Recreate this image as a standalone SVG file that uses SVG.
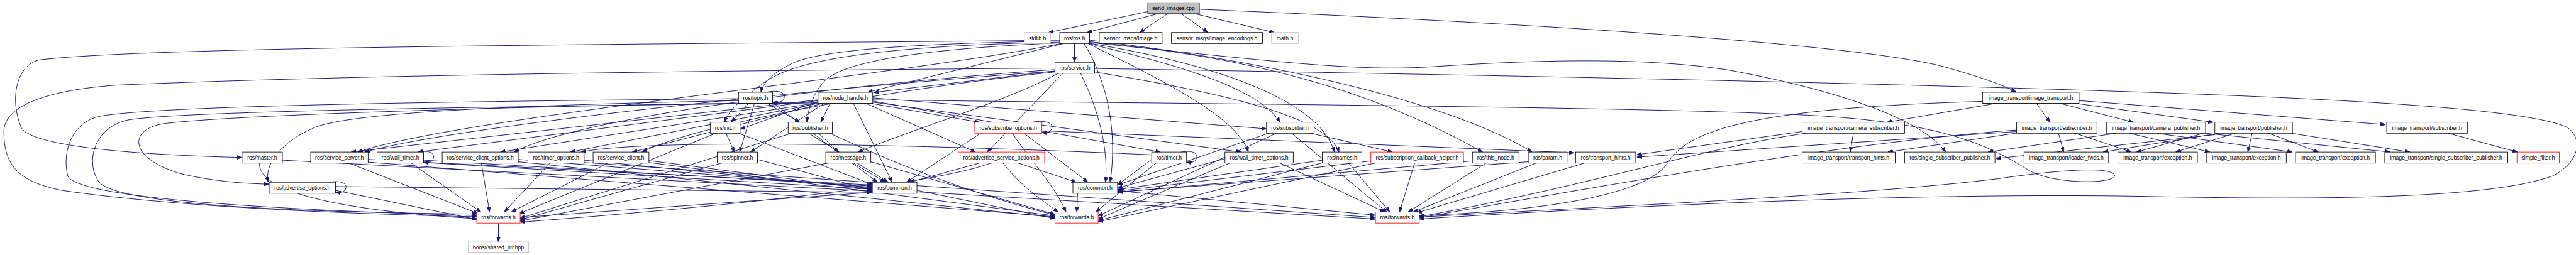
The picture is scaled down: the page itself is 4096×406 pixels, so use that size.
<svg xmlns="http://www.w3.org/2000/svg" width="4096" height="406" viewBox="0 0 4096 406">
<style>
.node rect{fill:#fff;stroke:#000;stroke-width:1.4}
.node.gray rect{stroke:#bfbfbf}
.node.red rect{stroke:#ff0000}
.node.root rect{fill:#bfbfbf}
.node text{font-family:"Liberation Sans",Arial,sans-serif;font-size:14px;text-anchor:middle;fill:#000}
.edges path{fill:none;stroke:#191970;stroke-width:1.6;marker-end:url(#arr)}
</style>
<defs>
<marker id="arr" viewBox="0 0 13 10" refX="13" refY="5" markerWidth="13" markerHeight="10" markerUnits="userSpaceOnUse" orient="auto">
<path d="M0,0 L13,5 L0,10 z" fill="#191970" stroke="#191970" stroke-width="1"/>
</marker>
</defs>
<rect width="4096" height="406" fill="#fff"/>
<g transform="scale(0.616775,0.616085)">
<g class="edges">
<path d="M2960,30 L2703,84"/>
<path d="M2985,35.5 L2802,84"/>
<path d="M3010,35.5 L2938,84"/>
<path d="M3045,35.5 L3114,84"/>
<path d="M3080,35.5 L3285,84"/>
<path d="M3092,24 C4300,75 4850,130 5010,172 C5110,200 5170,222 5198,238.5"/>
<path d="M2770,112.5 L2770,161"/>
<path d="M2742,112.5 L2236,238.5"/>
<path d="M2732,106 C2400,112 2120,125 2040,165 C1990,190 1966,215 1962,238.5"/>
<path d="M2732,109 C2300,118 2060,150 1975,210 C1905,260 1875,290 1868,316"/>
<path d="M2732,111 C2400,125 2190,155 2130,205 C2095,240 2083,285 2080,316"/>
<path d="M2732,104 C1800,114 400,118 100,155 C40,170 25,260 55,330 C85,385 420,402 624,407"/>
<path d="M2736,112.5 C2300,200 1200,300 922,393"/>
<path d="M2805,112.5 C3000,160 3240,220 3300,316"/>
<path d="M2809,110 C3300,160 3500,186 3700,172 C4000,152 4250,150 4450,180 C4700,225 4950,300 5016,393"/>
<path d="M2809,112 C3100,160 3400,250 3440,393"/>
<path d="M2809,108 C3250,150 3550,240 3822,393"/>
<path d="M2809,104 C3300,160 3750,270 3950,393"/>
<path d="M2795,112.5 C2860,220 2880,350 2862,471"/>
<path d="M2805,112.5 C2980,200 3190,300 3218,393"/>
<path d="M2722,183 L2252,239"/>
<path d="M2720,176 C2000,182 1000,190 300,220 C100,235 10,280 10,340 C10,430 50,470 160,492 C450,535 900,553 1229,560"/>
<path d="M2728,189.5 C2600,260 2350,335 2212,393"/>
<path d="M2786,189.5 C2830,280 2858,380 2850,471"/>
<path d="M2822,186 C3150,240 3420,300 3452,393"/>
<path d="M2720,186 C2300,230 1800,320 1655,393"/>
<path d="M2720,180 C2200,215 1500,300 1325,393"/>
<path d="M2740,189.5 L2545,393"/>
<path d="M2720,184 C2200,220 1200,320 940,393"/>
<path d="M2822,177 C3600,190 4400,205 5100,225 C5800,245 6500,270 6620,330 C6660,360 6650,420 6580,455 C6400,520 5900,515 5500,507 C5000,499 4300,525 3659,566"/>
<path d="M2109,262 L1908,334"/>
<path d="M2140,267 L2116,316"/>
<path d="M2125,267 L1935,393"/>
<path d="M2109,258 L905,393"/>
<path d="M2109,260 L1077,393"/>
<path d="M2112,265 L1290,393"/>
<path d="M2116,266 L1470,393"/>
<path d="M2122,267 L1630,393"/>
<path d="M2109,264 C1500,270 600,295 420,320 C330,335 330,410 470,450 C560,470 630,474 694,476"/>
<path d="M2232,267 L2515,393"/>
<path d="M2245,267 L2525,316"/>
<path d="M2250,253 L3265,333"/>
<path d="M2250,261 L2992,393"/>
<path d="M2250,264 L3200,393"/>
<path d="M2200,267 L2300,471"/>
<path d="M2109,266 C1400,274 480,285 330,310 C240,330 220,420 255,470 C300,525 700,548 1229,553"/>
<path d="M2250,258 C3000,268 4300,275 4700,300 C5000,320 5120,370 5230,440 C5300,480 5470,475 5450,450 C5430,430 5300,440 5150,462 C4800,505 4200,530 3659,561"/>
<path d="M1975,238.5 C2012,230 2024,242 2022,252 C2020,263 2008,266 1992,264"/>
<path d="M1930,267 L1885,316"/>
<path d="M1978,267 L2062,316"/>
<path d="M1945,267 L1907,393"/>
<path d="M1992,265 L2262,471"/>
<path d="M1904,255 C1200,262 420,272 260,300 C180,315 160,400 175,455 C195,505 600,540 1229,557"/>
<path d="M1904,260 C1300,272 900,292 810,330 C720,368 680,430 692,471"/>
<path d="M1872,344.5 L1893,393"/>
<path d="M1905,344.5 L2252,478"/>
<path d="M1845,344.5 L1338,552"/>
<path d="M2110,344.5 L2162,393"/>
<path d="M2085,344.5 L2290,471"/>
<path d="M2040,344.5 L1341,564"/>
<path d="M2140,344.5 C2300,420 2500,500 2720,556"/>
<path d="M2660,316 C2700,309 2714,320 2712,330 C2710,341 2700,344 2686,342"/>
<path d="M2528,344.5 L2337,471"/>
<path d="M2640,344.5 L2805,471"/>
<path d="M2610,344.5 C2660,420 2720,480 2748,548"/>
<path d="M2686,338 L4058,395"/>
<path d="M3380,344.5 L3590,393"/>
<path d="M3270,344.5 L2881,478"/>
<path d="M3330,344.5 L3575,548"/>
<path d="M3290,344.5 L2831,558"/>
<path d="M949,412 L2249,478"/>
<path d="M900,421.5 L1233,552"/>
<path d="M949,419 L2720,560"/>
<path d="M1078,393 C1110,387 1120,398 1118,407 C1116,418 1106,421 1092,419"/>
<path d="M1092,414 L2249,481"/>
<path d="M1060,421.5 L1240,548"/>
<path d="M1092,420 L3546,566"/>
<path d="M1241,421.5 L1262,548"/>
<path d="M1336,412 L2249,484"/>
<path d="M1336,418 L2720,562"/>
<path d="M1418,421.5 L1300,548"/>
<path d="M1506,414 L2249,487"/>
<path d="M1506,420 L3546,562"/>
<path d="M1567,421.5 L1318,548"/>
<path d="M1673,415 L2249,490"/>
<path d="M1673,420 L2720,558"/>
<path d="M1953,412 L2249,492"/>
<path d="M1860,421.5 L1341,568"/>
<path d="M2200,421.5 L2282,471"/>
<path d="M2245,418 L2720,554"/>
<path d="M2135,421.5 L1341,571"/>
<path d="M2525,421.5 L2345,471"/>
<path d="M2625,421.5 L2775,471"/>
<path d="M2586,421.5 C2630,480 2690,520 2728,548"/>
<path d="M2554,421.5 C2400,480 1800,540 1341,574"/>
<path d="M3045,393 C3077,387 3087,398 3085,407 C3083,418 3073,421 3059,419"/>
<path d="M2969,412 L2881,478"/>
<path d="M2980,421.5 L2825,548"/>
<path d="M2969,400 C2300,370 1650,360 1498,393"/>
<path d="M3158,410 L2881,486"/>
<path d="M3170,421.5 L2831,566"/>
<path d="M3300,421.5 L3570,548"/>
<path d="M3409,414 L2881,490"/>
<path d="M3477,421.5 L3583,548"/>
<path d="M3409,421 L2831,570"/>
<path d="M3647,421.5 L3608,548"/>
<path d="M3534,416 L2881,494"/>
<path d="M3545,421.5 L2831,573"/>
<path d="M3831,421.5 L3630,548"/>
<path d="M3796,416 L2881,497"/>
<path d="M3960,421.5 L3643,548"/>
<path d="M3940,418 L2881,496"/>
<path d="M4085,421.5 L3652,550"/>
<path d="M5147,267 L4864,316"/>
<path d="M5250,267 L5285,316"/>
<path d="M5310,267 L5500,316"/>
<path d="M5350,267 L5706,316"/>
<path d="M5360,260 L6150,322"/>
<path d="M5111,262 C4500,280 4350,340 4300,420 C4250,500 4000,545 3659,557"/>
<path d="M4778,344.5 L4770,393"/>
<path d="M4655,344.5 C4400,380 4100,480 3659,560"/>
<path d="M4646,340 L4219,400"/>
<path d="M5199,344 L4867,393"/>
<path d="M5307,344.5 L5320,393"/>
<path d="M5350,344.5 L5495,393"/>
<path d="M5199,336 C4800,365 4300,450 3659,563"/>
<path d="M5199,340 L4220,406"/>
<path d="M5455,344.5 L5125,393"/>
<path d="M5490,344.5 L5697,393"/>
<path d="M5560,344.5 L5910,393"/>
<path d="M5686,344.5 L6162,393"/>
<path d="M5680,344.5 L5508,393"/>
<path d="M5762,344.5 L5609,393"/>
<path d="M5806,344.5 L5795,393"/>
<path d="M5849,344.5 L5977,393"/>
<path d="M5908,344.5 L6213,393"/>
<path d="M5710,348 L5145,410"/>
<path d="M5720,344.5 L5422,393"/>
<path d="M6312,344.5 L6490,393"/>
<path d="M728,414 L2249,494"/>
<path d="M669,421.5 C665,480 800,540 1229,565"/>
<path d="M850,471 C882,465 894,476 892,485 C890,496 880,499 865,497"/>
<path d="M865,492 L1229,567"/>
<path d="M865,482 L2249,497"/>
<path d="M2249,497 L1341,562"/>
<path d="M2364,492 L2720,565"/>
<path d="M2778,499.5 L2776,548"/>
<path d="M2881,493 L3546,556"/>
<path d="M1285,576.5 L1285,625"/>
</g>
<g id="n0" class="node root"><rect x="2959" y="7" width="133" height="28.5"/><text x="3025.5" y="26.3">send_images.cpp</text></g>
<g id="n1" class="node gray"><rect x="2641" y="84" width="67" height="28.5"/><text x="2674.5" y="103.3">stdlib.h</text></g>
<g id="n2" class="node"><rect x="2732" y="84" width="77" height="28.5"/><text x="2770.5" y="103.3">ros/ros.h</text></g>
<g id="n3" class="node"><rect x="2834" y="84" width="162" height="28.5"/><text x="2915" y="103.3">sensor_msgs/Image.h</text></g>
<g id="n4" class="node"><rect x="3020" y="84" width="235" height="28.5"/><text x="3137.5" y="103.3">sensor_msgs/image_encodings.h</text></g>
<g id="n5" class="node gray"><rect x="3278" y="84" width="69" height="28.5"/><text x="3312.5" y="103.3">math.h</text></g>
<g id="n6" class="node"><rect x="2720" y="161" width="102" height="28.5"/><text x="2771" y="180.3">ros/service.h</text></g>
<g id="n7" class="node"><rect x="1904" y="238.5" width="88" height="28.5"/><text x="1948" y="257.8">ros/topic.h</text></g>
<g id="n8" class="node"><rect x="2109" y="238.5" width="141" height="28.5"/><text x="2179.5" y="257.8">ros/node_handle.h</text></g>
<g id="n9" class="node"><rect x="5111" y="238.5" width="249" height="28.5"/><text x="5235.5" y="257.8">image_transport/image_transport.h</text></g>
<g id="n10" class="node"><rect x="1831" y="316" width="77" height="28.5"/><text x="1869.5" y="335.3">ros/init.h</text></g>
<g id="n11" class="node"><rect x="2032" y="316" width="114" height="28.5"/><text x="2089" y="335.3">ros/publisher.h</text></g>
<g id="n12" class="node red"><rect x="2513" y="316" width="173" height="28.5"/><text x="2599.5" y="335.3">ros/subscribe_options.h</text></g>
<g id="n13" class="node"><rect x="3265" y="316" width="123" height="28.5"/><text x="3326.5" y="335.3">ros/subscriber.h</text></g>
<g id="n14" class="node"><rect x="4646" y="316" width="264" height="28.5"/><text x="4778" y="335.3">image_transport/camera_subscriber.h</text></g>
<g id="n15" class="node"><rect x="5199" y="316" width="207" height="28.5"/><text x="5302.5" y="335.3">image_transport/subscriber.h</text></g>
<g id="n16" class="node"><rect x="5431" y="316" width="255" height="28.5"/><text x="5558.5" y="335.3">image_transport/camera_publisher.h</text></g>
<g id="n17" class="node"><rect x="5710" y="316" width="200" height="28.5"/><text x="5810" y="335.3">image_transport/publisher.h</text></g>
<g id="n18" class="node"><rect x="6153" y="316" width="208" height="28.5"/><text x="6257" y="335.3">image_transport/subscriber.h</text></g>
<g id="n19" class="node"><rect x="624" y="393" width="104" height="28.5"/><text x="676" y="412.3">ros/master.h</text></g>
<g id="n20" class="node"><rect x="801" y="393" width="148" height="28.5"/><text x="875" y="412.3">ros/service_server.h</text></g>
<g id="n21" class="node"><rect x="972" y="393" width="120" height="28.5"/><text x="1032" y="412.3">ros/wall_timer.h</text></g>
<g id="n22" class="node"><rect x="1140" y="393" width="196" height="28.5"/><text x="1238" y="412.3">ros/service_client_options.h</text></g>
<g id="n23" class="node"><rect x="1361" y="393" width="145" height="28.5"/><text x="1433.5" y="412.3">ros/timer_options.h</text></g>
<g id="n24" class="node"><rect x="1529" y="393" width="144" height="28.5"/><text x="1601" y="412.3">ros/service_client.h</text></g>
<g id="n25" class="node"><rect x="1849" y="393" width="104" height="28.5"/><text x="1901" y="412.3">ros/spinner.h</text></g>
<g id="n26" class="node"><rect x="2129" y="393" width="116" height="28.5"/><text x="2187" y="412.3">ros/message.h</text></g>
<g id="n27" class="node red"><rect x="2470" y="393" width="223" height="28.5"/><text x="2581.5" y="412.3">ros/advertise_service_options.h</text></g>
<g id="n28" class="node"><rect x="2969" y="393" width="90" height="28.5"/><text x="3014" y="412.3">ros/timer.h</text></g>
<g id="n29" class="node"><rect x="3158" y="393" width="176" height="28.5"/><text x="3246" y="412.3">ros/wall_timer_options.h</text></g>
<g id="n30" class="node"><rect x="3409" y="393" width="102" height="28.5"/><text x="3460" y="412.3">ros/names.h</text></g>
<g id="n31" class="node red"><rect x="3534" y="393" width="239" height="28.5"/><text x="3653.5" y="412.3">ros/subscription_callback_helper.h</text></g>
<g id="n32" class="node"><rect x="3796" y="393" width="120" height="28.5"/><text x="3856" y="412.3">ros/this_node.h</text></g>
<g id="n33" class="node"><rect x="3940" y="393" width="100" height="28.5"/><text x="3990" y="412.3">ros/param.h</text></g>
<g id="n34" class="node"><rect x="4062" y="393" width="155" height="28.5"/><text x="4139.5" y="412.3">ros/transport_hints.h</text></g>
<g id="n35" class="node"><rect x="4646" y="393" width="240" height="28.5"/><text x="4766" y="412.3">image_transport/transport_hints.h</text></g>
<g id="n36" class="node"><rect x="4910" y="393" width="233" height="28.5"/><text x="5026.5" y="412.3">ros/single_subscriber_publisher.h</text></g>
<g id="n37" class="node"><rect x="5218" y="393" width="218" height="28.5"/><text x="5327" y="412.3">image_transport/loader_fwds.h</text></g>
<g id="n38" class="node"><rect x="5460" y="393" width="205" height="28.5"/><text x="5562.5" y="412.3">image_transport/exception.h</text></g>
<g id="n39" class="node"><rect x="5689" y="393" width="205" height="28.5"/><text x="5791.5" y="412.3">image_transport/exception.h</text></g>
<g id="n40" class="node"><rect x="5918" y="393" width="206" height="28.5"/><text x="6021" y="412.3">image_transport/exception.h</text></g>
<g id="n41" class="node"><rect x="6148" y="393" width="317" height="28.5"/><text x="6306.5" y="412.3">image_transport/single_subscriber_publisher.h</text></g>
<g id="n42" class="node red"><rect x="6489" y="393" width="109" height="28.5"/><text x="6543.5" y="412.3">simple_filter.h</text></g>
<g id="n43" class="node"><rect x="694" y="471" width="171" height="28.5"/><text x="779.5" y="490.3">ros/advertise_options.h</text></g>
<g id="n44" class="node"><rect x="2249" y="471" width="115" height="28.5"/><text x="2306.5" y="490.3">ros/common.h</text></g>
<g id="n45" class="node"><rect x="2766" y="471" width="115" height="28.5"/><text x="2823.5" y="490.3">ros/common.h</text></g>
<g id="n46" class="node red"><rect x="1229" y="548" width="112" height="28.5"/><text x="1285" y="567.3">ros/forwards.h</text></g>
<g id="n47" class="node red"><rect x="2720" y="548" width="111" height="28.5"/><text x="2775.5" y="567.3">ros/forwards.h</text></g>
<g id="n48" class="node red"><rect x="3546" y="548" width="113" height="28.5"/><text x="3602.5" y="567.3">ros/forwards.h</text></g>
<g id="n49" class="node gray"><rect x="1207" y="625" width="156" height="28.5"/><text x="1285" y="644.3">boost/shared_ptr.hpp</text></g>
</g>
</svg>
